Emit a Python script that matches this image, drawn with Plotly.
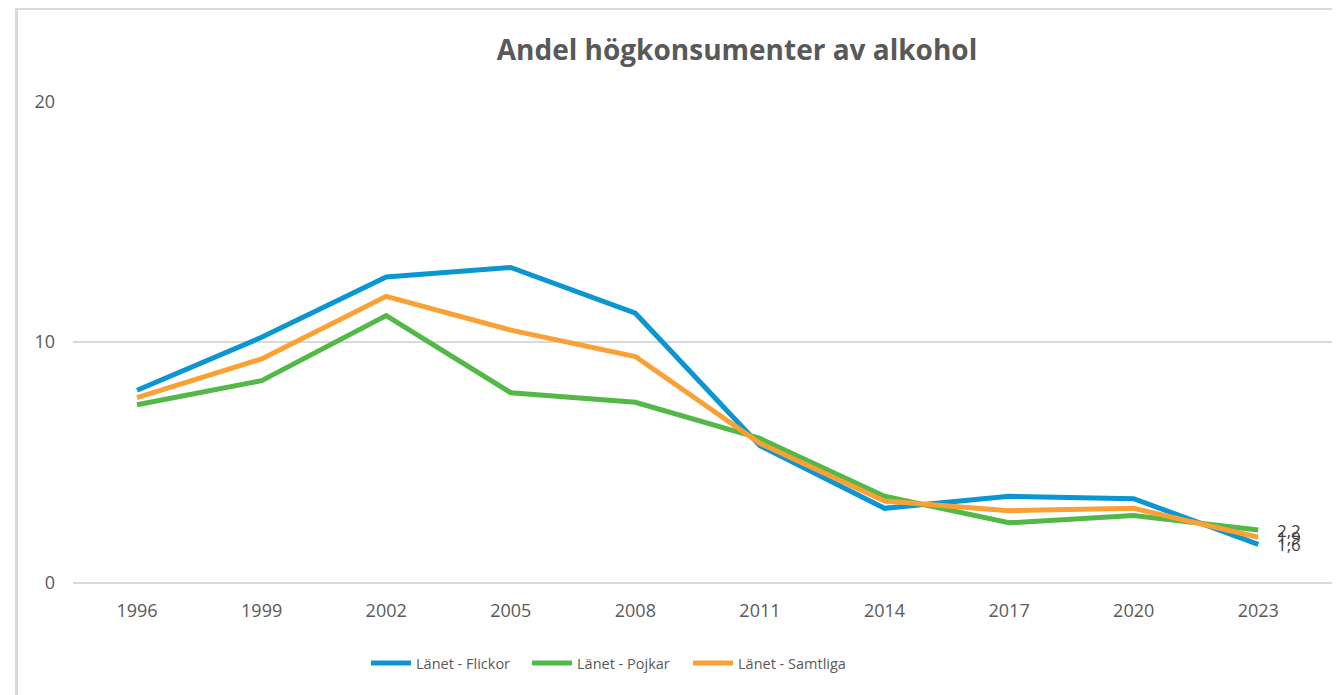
import plotly.graph_objects as go

years = ["1996", "1999", "2002", "2005", "2008", "2011", "2014", "2017", "2020", "2023"]
flickor = [8.0, 10.2, 12.7, 13.1, 11.2, 5.7, 3.1, 3.6, 3.5, 1.6]
pojkar = [7.4, 8.4, 11.1, 7.9, 7.5, 6.0, 3.6, 2.5, 2.8, 2.2]
samtliga = [7.7, 9.3, 11.9, 10.5, 9.4, 5.8, 3.4, 3.0, 3.1, 1.9]

series_names = ["Länet - Flickor", "Länet - Pojkar", "Länet - Samtliga"]
series_values = [flickor, pojkar, samtliga]
colors = ["#0B96D1", "#52B847", "#FAA035"]

def fmt(v):
    return f"{v:.1f}".replace(".", ",")

# page offset (browser body margin)
O = 8
W, H = 1340 - O, 695 - O
L, R, T, B = 73 - O, 2, 101 - O, 112
pw = W - L - R
ph = H - T - B

fig = go.Figure()
annotations = []
for name, vals, col in zip(series_names, series_values, colors):
    fig.add_trace(go.Scatter(
        x=years, y=vals, name=name, mode="lines",
        line=dict(color=col, width=5),
    ))
    annotations.append(dict(
        x=len(years) - 1, y=vals[-1], xref="x", yref="y", text=fmt(vals[-1]),
        showarrow=False, xanchor="left", yanchor="middle", xshift=17,
        font=dict(family="Open Sans", size=17, color="#404040"),
    ))

fig.update_layout(
    width=W, height=H,
    margin=dict(l=L, r=R, t=T, b=B),
    paper_bgcolor="white", plot_bgcolor="white",
    font=dict(family="Open Sans", color="#595959"),
    title=dict(text="<b>Andel högkonsumenter av alkohol</b>",
               x=(737 - O) / W, xref="container", xanchor="center",
               y=1 - (50 - O) / H, yref="container", yanchor="middle",
               font=dict(family="Open Sans", size=28, color="#595959")),
    showlegend=True,
    legend=dict(orientation="h", x=(366 - O - L) / pw, xanchor="left",
                y=-(663 - O - (H - B)) / ph, yanchor="middle",
                font=dict(family="Open Sans", size=14.5, color="#595959"),
                entrywidth=106, entrywidthmode="pixels",
                itemwidth=40, tracegroupgap=0),
    xaxis=dict(type="category", range=[-0.514, 9.64], showgrid=False,
               showline=False, zeroline=False, ticks="",
               tickfont=dict(family="Open Sans", size=18, color="#595959"),
               ticklabelstandoff=15),
    yaxis=dict(range=[0, 20.01], tickvals=[0, 10, 20], showgrid=True,
               gridcolor="#D9D9D9", gridwidth=2, zeroline=True,
               zerolinecolor="#D9D9D9", zerolinewidth=2, showline=False, ticks="",
               tickfont=dict(family="Open Sans", size=18, color="#595959"),
               ticklabelstandoff=17),
    annotations=annotations,
    shapes=[
        dict(type="line", xref="paper", yref="paper",
             x0=(16.5 - O - L) / pw, x1=(16.5 - O - L) / pw,
             y0=-B / ph - 0.05, y1=((H - B) - 0.5) / ph + 0.01,
             line=dict(color="#D9D9D9", width=3)),
        dict(type="line", xref="paper", yref="paper",
             x0=(15 - O - L) / pw, x1=(W - L) / pw,
             y0=((H - B) - 0.5) / ph, y1=((H - B) - 0.5) / ph,
             line=dict(color="#D9D9D9", width=3)),
    ],
)

fig.write_html("out.html")
